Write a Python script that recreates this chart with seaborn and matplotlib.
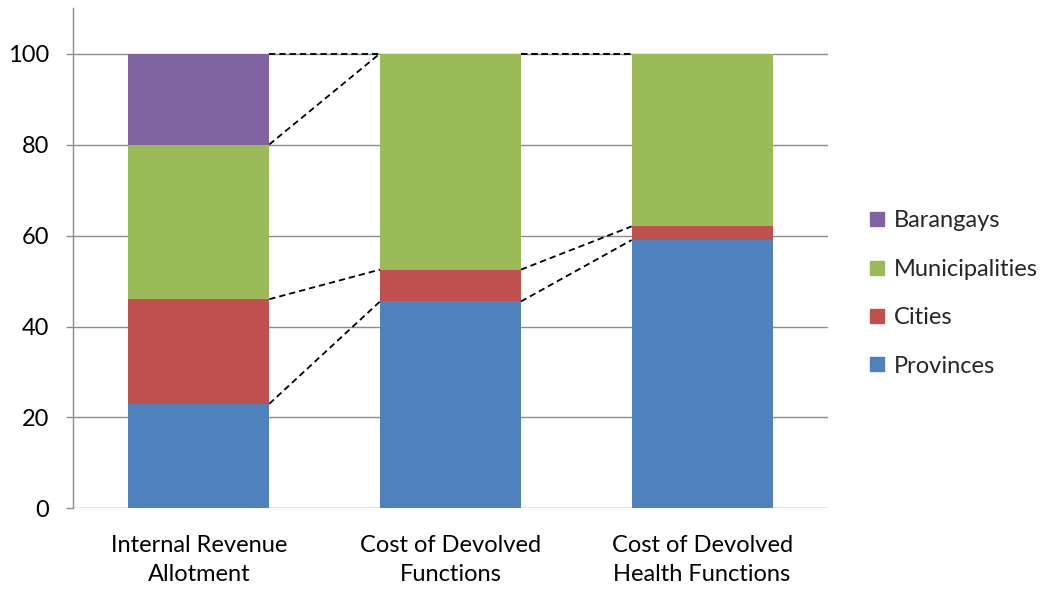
import matplotlib
matplotlib.use("Agg")
import matplotlib.pyplot as plt
from matplotlib.lines import Line2D
import seaborn as sns
import numpy as np
import pandas as pd

sns.set_theme(style="white")
plt.rcParams["font.family"] = ["Lato", "DejaVu Sans"]

categories = ["Internal Revenue\nAllotment", "Cost of Devolved\nFunctions",
              "Cost of Devolved\nHealth Functions"]
series_names = ["Provinces", "Cities", "Municipalities", "Barangays"]
provinces = [23, 45.5, 59]
cities = [23, 7, 3]
municipalities = [34, 47.5, 38]
barangays = [20, 0, 0]
colors = ["#4F81BD", "#C0504D", "#9BBB59", "#8064A2"]

values = np.array([provinces, cities, municipalities, barangays])
cumulative = values.cumsum(axis=0)

fig = plt.figure(figsize=(10.5, 5.93), dpi=100)
ax = fig.add_axes([0.0695, 0.1425, 0.719, 0.844])

bar_w = 0.56
# draw tallest cumulative first so lower segments sit on top
for k in range(len(series_names) - 1, -1, -1):
    df = pd.DataFrame({"cat": categories, "top": cumulative[k]})
    sns.barplot(data=df, x="cat", y="top", color=colors[k], width=bar_w,
                saturation=1, linewidth=0, ax=ax, zorder=2)

# series lines between adjacent bars
for k in range(len(series_names)):
    for i in range(len(categories) - 1):
        ax.plot([i + bar_w / 2, i + 1 - bar_w / 2],
                [cumulative[k][i], cumulative[k][i + 1]],
                color="black", lw=1.3, ls=(0, (3.5, 2.2)), zorder=3)

ax.set_xlim(-0.5, 2.5)
ax.set_ylim(0, 110)
ax.set_yticks(range(0, 101, 20))
ax.yaxis.grid(True, color="#8C8C8C", lw=1)
ax.set_axisbelow(True)
ax.set_xlabel("")
ax.set_ylabel("")
for s in ["top", "right", "bottom"]:
    ax.spines[s].set_visible(False)
ax.spines["left"].set_color("#8C8C8C")
ax.spines["left"].set_linewidth(1)
ax.tick_params(axis="y", left=True, length=5, width=1, color="#8C8C8C",
               pad=12, labelsize=17, labelcolor="black")
ax.tick_params(axis="x", bottom=False, pad=13, labelsize=17, labelcolor="black")
for t in ax.get_xticklabels():
    t.set_linespacing(1.5)

handles = [Line2D([], [], marker="s", ls="", color=colors[k], markersize=10)
           for k in range(len(series_names) - 1, -1, -1)]
labels = series_names[::-1]
fig.legend(handles, labels, loc="center left", bbox_to_anchor=(0.827, 0.505),
           frameon=False, fontsize=17, handlelength=0.75, handletextpad=0.35,
           labelspacing=1.16, borderpad=0, borderaxespad=0)

fig.savefig("out.png", dpi=100)
